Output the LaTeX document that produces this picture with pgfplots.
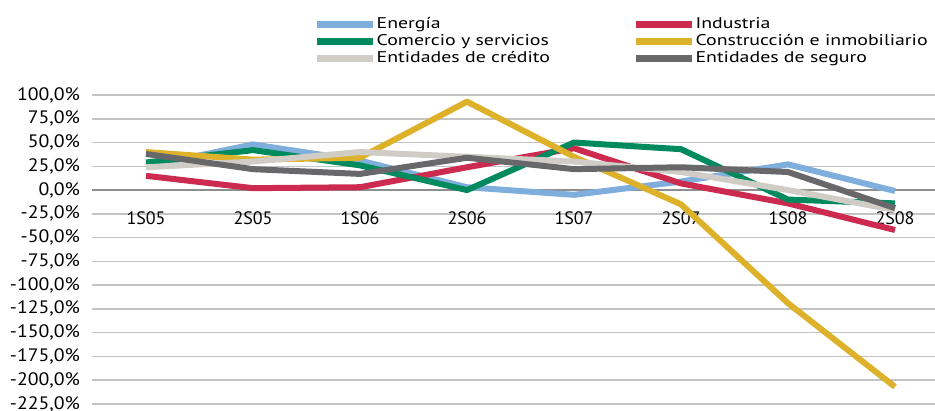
\documentclass[border=0pt]{standalone}
\usepackage{pgfplots}
\pgfplotsset{compat=1.18}
\usepackage{fontspec}
\setmainfont{PT Sans}
\newfontfamily\ywide{PT Sans}[FakeStretch=1.1]
\newfontfamily\xwide{PT Sans}[FakeStretch=1.0]
\newfontfamily\lwide{PT Sans}[FakeStretch=1.28]
\definecolor{cEn}{HTML}{7FAEDC}
\definecolor{cIn}{HTML}{CC2A4E}
\definecolor{cCo}{HTML}{008A5E}
\definecolor{cCn}{HTML}{DDB22A}
\definecolor{cCr}{HTML}{D0CDC7}
\definecolor{cSe}{HTML}{68686B}
\definecolor{cGrid}{HTML}{C4C4C4}
\definecolor{cZero}{HTML}{8E8E8E}
\begin{document}
\begin{tikzpicture}[x=1pt,y=1pt]
\begin{axis}[
  at={(92.5pt,6pt)}, anchor=south west,
  scale only axis, width=856pt, height=309pt,
  xmin=-0.5, xmax=7.5, ymin=-225, ymax=100,
  axis x line=middle, axis y line=left,
  x axis line style={draw=cZero, line width=1.5pt, -},
  y axis line style={draw=none},
  xtick={0,...,7},
  xticklabels={1S05,2S05,1S06,2S06,1S07,2S07,1S08,2S08},
  ytick={-225,-200,...,100},
  major tick length=0pt,
  ymajorgrids, grid style={cGrid, line width=1.5pt},
  /pgf/number format/assume math mode=true,
  yticklabel={\pgfmathprintnumber[fixed,fixed zerofill,precision=1,use comma]{\tick}\%},
  yticklabel style={font=\ywide\fontsize{18}{20}\selectfont, xshift=-9pt},
  xticklabel style={font=\xwide\fontsize{18}{20}\selectfont, yshift=-18pt},
  legend columns=2, legend cell align=left,
  legend style={at={(0.2546,1.262)}, anchor=north west, draw=none, fill=none,
    font=\lwide\fontsize{15.5}{17.5}\selectfont,
    nodes={inner sep=0.5pt, text height=12pt, text depth=4pt},
    row sep=0pt,
    /tikz/every even column/.append style={column sep=82pt}},
  legend image code/.code={\draw[#1, line width=6.5pt] (0pt,0pt) -- (56pt,0pt);},
  every axis plot/.append style={line width=6pt, line join=round, mark=none},
  clip=false,
]
\addplot[cEn] coordinates {(0,25) (1,48) (2,31) (3,3) (4,-5) (5,9) (6,27) (7,-1)};
\addlegendentry{Energía}
\addplot[cIn] coordinates {(0,15) (1,2) (2,3) (3,24) (4,44) (5,7) (6,-14) (7,-42)};
\addlegendentry{Industria}
\addplot[cCo] coordinates {(0,29) (1,42) (2,26) (3,0) (4,50) (5,43) (6,-10) (7,-14)};
\addlegendentry{Comercio y servicios}
\addplot[cCn] coordinates {(0,40) (1,32) (2,34) (3,93) (4,35) (5,-15) (6,-119) (7,-207)};
\addlegendentry{Construcción e inmobiliario}
\addplot[cCr] coordinates {(0,24) (1,30) (2,40) (3,35) (4,30) (5,19) (6,0) (7,-21)};
\addlegendentry{Entidades de crédito}
\addplot[cSe] coordinates {(0,38) (1,22) (2,17) (3,34) (4,22) (5,24) (6,19) (7,-19)};
\addlegendentry{Entidades de seguro}
\end{axis}
\pgfresetboundingbox
\useasboundingbox (0,0) rectangle (935,410);
\end{tikzpicture}
\end{document}
